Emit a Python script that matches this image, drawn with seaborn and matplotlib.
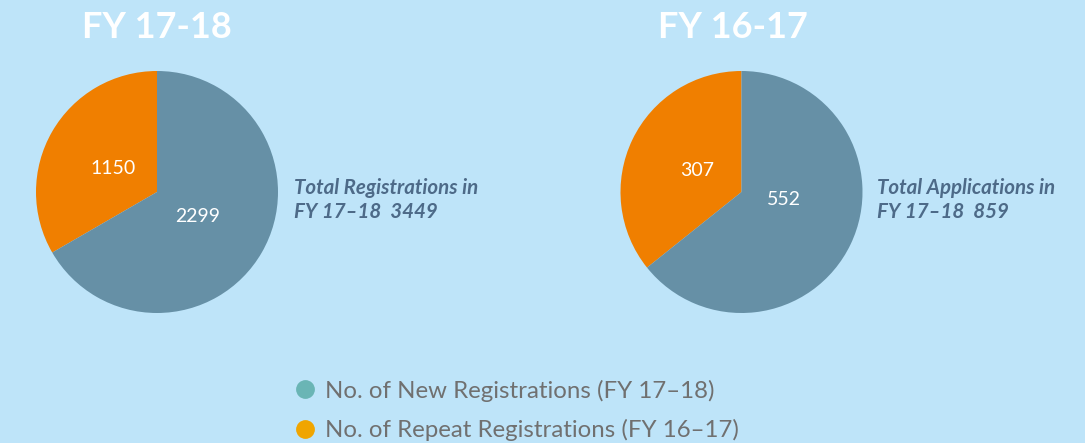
import matplotlib
matplotlib.use("Agg")
import matplotlib.pyplot as plt
import seaborn as sns
import numpy as np
from matplotlib.lines import Line2D

# ---- data ----
titles = ["FY 17-18", "FY 16-17"]
repeat_vals = [1150, 307]
new_vals = [2299, 552]
side_notes = ["Total Registrations in\nFY 17\u201318  3449", "Total Applications in\nFY 17\u201318  859"]
legend_labels = ["No. of New Registrations (FY 17\u201318)", "No. of Repeat Registrations (FY 16\u201317)"]

bg = "#BEE4F9"
pie_colors = ["#F07F00", "#6690A6"]
legend_colors = ["#6AB5B5", "#F0A500"]

sns.set_theme(style="white")
plt.rcParams["font.family"] = ["Lato", "DejaVu Sans"]

W, H = 1085, 443
fig = plt.figure(figsize=(W / 100, H / 100), dpi=100, facecolor=bg)

def px_axes(cx, cy, r):
    return fig.add_axes([(cx - r) / W, (H - cy - r) / H, 2 * r / W, 2 * r / H])

centers = [(157, 192), (741.5, 192)]
title_x = [157, 733]
note_x = [294, 877]
R = 121
# label placement (radius fraction, angle in degrees) per chart: [repeat, new]
label_polar = [[(0.41, 152), (0.39, -31)], [(0.41, 154), (0.36, -10)]]

for i in range(2):
    ax = px_axes(centers[i][0], centers[i][1], R)
    ax.set_facecolor(bg)
    vals = [repeat_vals[i], new_vals[i]]
    wedges, texts = ax.pie(vals, colors=pie_colors, startangle=90, counterclock=True,
                           labels=[str(v) for v in vals], labeldistance=0.4,
                           textprops=dict(color="white", fontsize=14),
                           wedgeprops=dict(linewidth=0))
    for t, (rr, ang) in zip(texts, label_polar[i]):
        t.set_ha("center"); t.set_va("center")
        t.set_position((rr * np.cos(np.radians(ang)), rr * np.sin(np.radians(ang))))
    ax.set_aspect("equal")
    ax.set_xlim(-1, 1); ax.set_ylim(-1, 1)
    ax.axis("off")
    fig.text(title_x[i] / W, 1 - 27 / H, titles[i], color="white", fontsize=26,
             fontweight="bold", ha="center", va="center")
    fig.text(note_x[i] / W, 1 - 200 / H, side_notes[i], color="#4D6A88", fontsize=14.8,
             fontweight="bold", fontstyle="italic", ha="left", va="center", linespacing=1.2)

handles = [Line2D([0], [0], marker="o", linestyle="none", markersize=12.5,
                  markerfacecolor=c, markeredgecolor=c) for c in legend_colors]
leg = fig.legend(handles, legend_labels, loc="center left",
                 bbox_to_anchor=(295 / W, 1 - 410.5 / H), frameon=False,
                 fontsize=17.3, labelspacing=0.72, handletextpad=0.45, handlelength=0.8,
                 borderpad=0, borderaxespad=0)
for t in leg.get_texts():
    t.set_color("#707070")

fig.savefig("out.png", dpi=100, facecolor=bg)
